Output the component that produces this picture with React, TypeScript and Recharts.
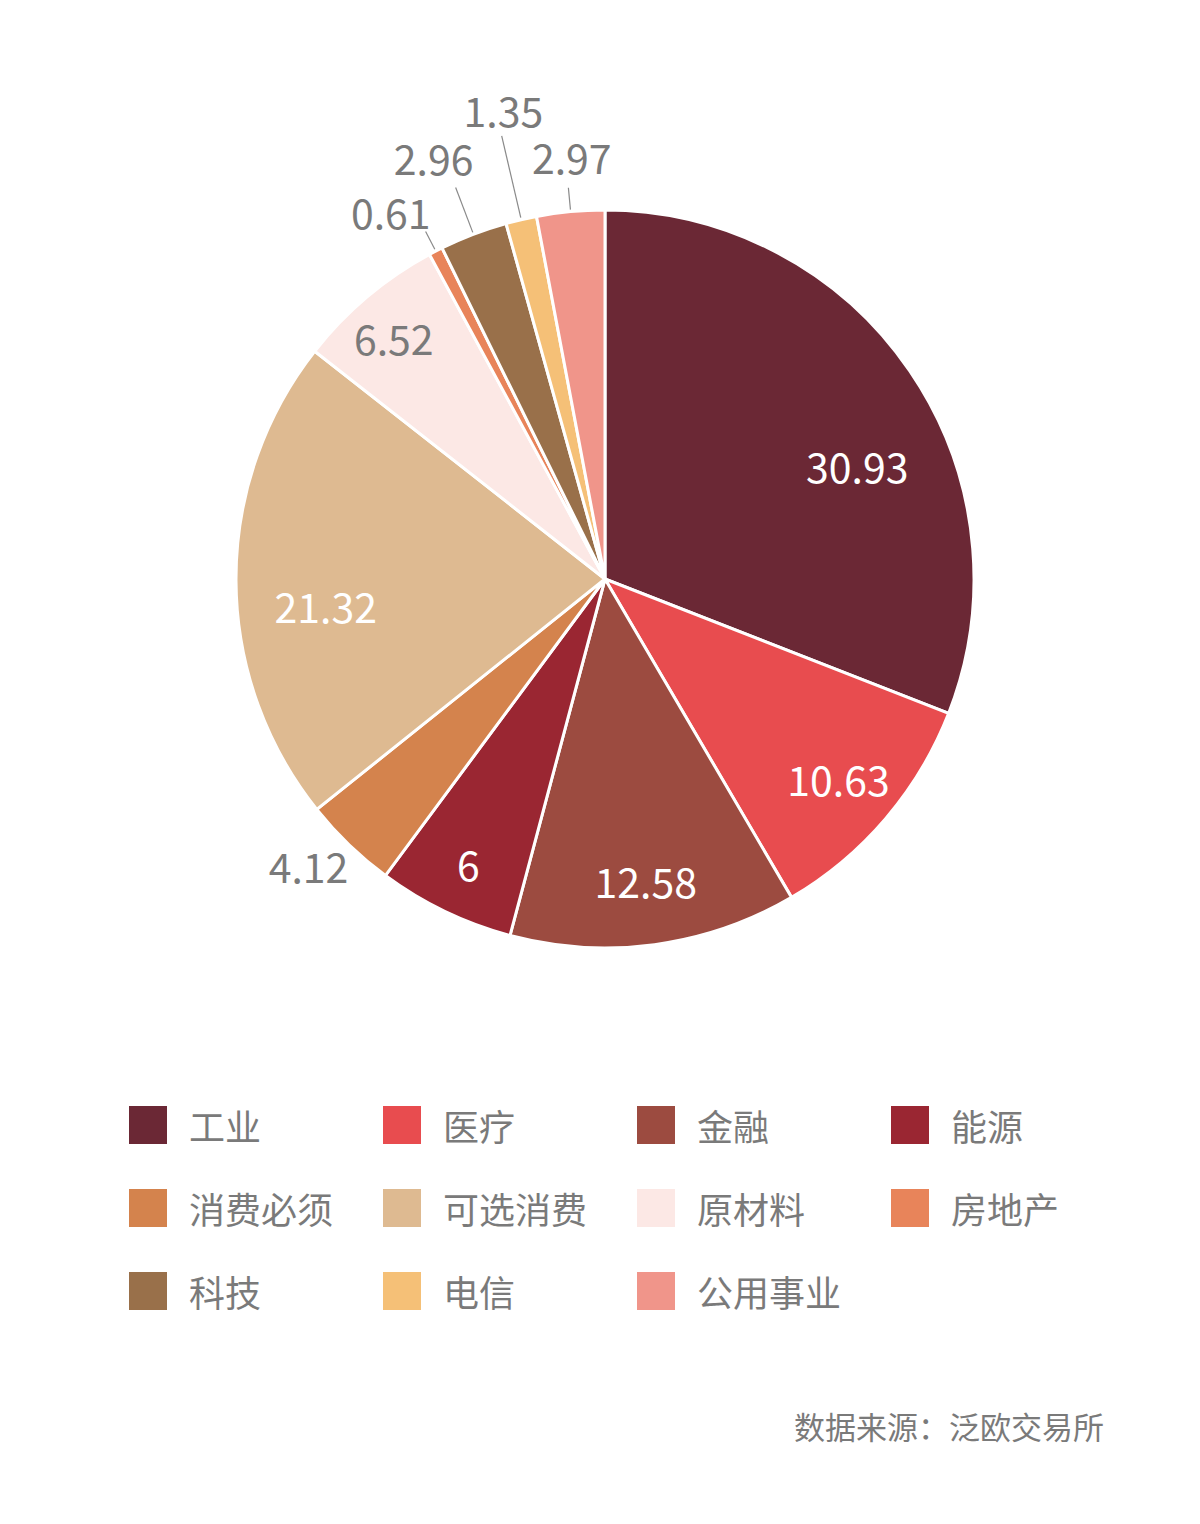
import { PieChart, Pie, Cell, Legend } from "recharts";

// ── data ──
const SECTORS = ["工业", "医疗", "金融", "能源", "消费必须", "可选消费", "原材料", "房地产", "科技", "电信", "公用事业"];
const VALUES = [30.93, 10.63, 12.58, 6, 4.12, 21.32, 6.52, 0.61, 2.96, 1.35, 2.97];
const COLORS = ["#6b2835", "#e84c4f", "#9c4b40", "#9a2632", "#d4834d", "#deba91", "#fce8e5", "#e8845a", "#99704a", "#f5c077", "#f0958a"];
const SOURCE = "数据来源：泛欧交易所";

const data = SECTORS.map((name, i) => ({ name, value: VALUES[i] }));

const FONT = '"Noto Sans CJK SC", "Noto Sans", sans-serif';
const GRAY = "#7a7a7a";
const RADIAN = Math.PI / 180;

// outside labels: [leader length, dx, dy] — staggered so they don't collide
const LEADER: Record<string, [number, number, number]> = {
  消费必须: [0, -21, 0],
  房地产: [22, -22, 4],
  科技: [50, -12, -4],
  电信: [86, 8, 0],
  公用事业: [24, 6, -4],
};
// inside labels that the original layout pulled off the mid-angle: [angle shift, radius factor]
const INSIDE_TWEAK: Record<string, [number, number]> = {
  工业: [-10, 0.75],
  可选消费: [5, 0.76],
  原材料: [1, 0.87],
};
const LIGHT = new Set(["原材料"]);

function renderLabel(props: any) {
  const { cx, cy, midAngle, outerRadius, index } = props;
  const name = SECTORS[index];
  const value = VALUES[index];

  if (value < 5) {
    const [ext, dx, dy] = LEADER[name] ?? [0, 0, 0];
    const cos = Math.cos(-midAngle * RADIAN);
    const sin = Math.sin(-midAngle * RADIAN);
    const r0 = outerRadius + 2;
    const r1 = outerRadius + ext;
    const rl = outerRadius + ext + 28;
    const x = cx + rl * cos + dx;
    const y = cy + rl * sin + dy;
    return (
      <g key={`lbl-${index}`}>
        {ext > 0 && (
          <line
            x1={cx + r0 * cos}
            y1={cy + r0 * sin}
            x2={cx + r1 * cos}
            y2={cy + r1 * sin}
            stroke="#8a8a8a"
            strokeWidth={1.2}
          />
        )}
        <text x={x} y={y} fill={GRAY} fontSize={41} fontFamily={FONT} textAnchor="middle" dominantBaseline="central">
          {value}
        </text>
      </g>
    );
  }

  const tweak = INSIDE_TWEAK[name];
  const rl = outerRadius * (tweak ? tweak[1] : 0.88 - value * 0.0045);
  const a = (midAngle + (tweak ? tweak[0] : 0)) * RADIAN;
  const x = cx + rl * Math.cos(-a);
  const y = cy + rl * Math.sin(-a);
  return (
    <text
      key={`lbl-${index}`}
      x={x}
      y={y}
      fill={LIGHT.has(name) ? GRAY : "#ffffff"}
      fontSize={41}
      fontFamily={FONT}
      textAnchor="middle"
      dominantBaseline="central"
    >
      {value}
    </text>
  );
}

function LegendGrid() {
  return (
    <div
      style={{
        display: "grid",
        gridTemplateColumns: "repeat(4, 254px)",
        gridAutoRows: "83px",
        paddingLeft: 129,
        fontFamily: FONT,
      }}
    >
      {SECTORS.map((name, i) => (
        <div key={name} style={{ display: "flex", alignItems: "center" }}>
          <span style={{ width: 38, height: 38, background: COLORS[i], display: "inline-block", flexShrink: 0 }} />
          <span style={{ marginLeft: 22, fontSize: 36, color: GRAY, lineHeight: "40px" }}>{name}</span>
        </div>
      ))}
    </div>
  );
}

export default function App() {
  return (
    <div style={{ position: "relative", width: 1200, height: 1524, margin: -8, background: "#fff" }}>
      <PieChart width={1200} height={1524} margin={{ top: 0, right: 0, bottom: 0, left: 0 }}>
        <Pie
          data={data}
          dataKey="value"
          nameKey="name"
          cx={605}
          cy={579}
          outerRadius={369}
          startAngle={90}
          endAngle={-270}
          stroke="#ffffff"
          strokeWidth={3}
          labelLine={false}
          label={renderLabel}
          isAnimationActive={false}
        >
          {data.map((_, i) => (
            <Cell key={`cell-${i}`} fill={COLORS[i]} />
          ))}
        </Pie>
        <Legend
          content={() => <LegendGrid />}
          wrapperStyle={{ position: "absolute", top: 1083, left: 0, width: 1200 }}
        />
      </PieChart>
      <div
        style={{
          position: "absolute",
          right: 96,
          top: 1410,
          fontSize: 31,
          lineHeight: "32px",
          color: GRAY,
          fontFamily: FONT,
        }}
      >
        {SOURCE}
      </div>
    </div>
  );
}
